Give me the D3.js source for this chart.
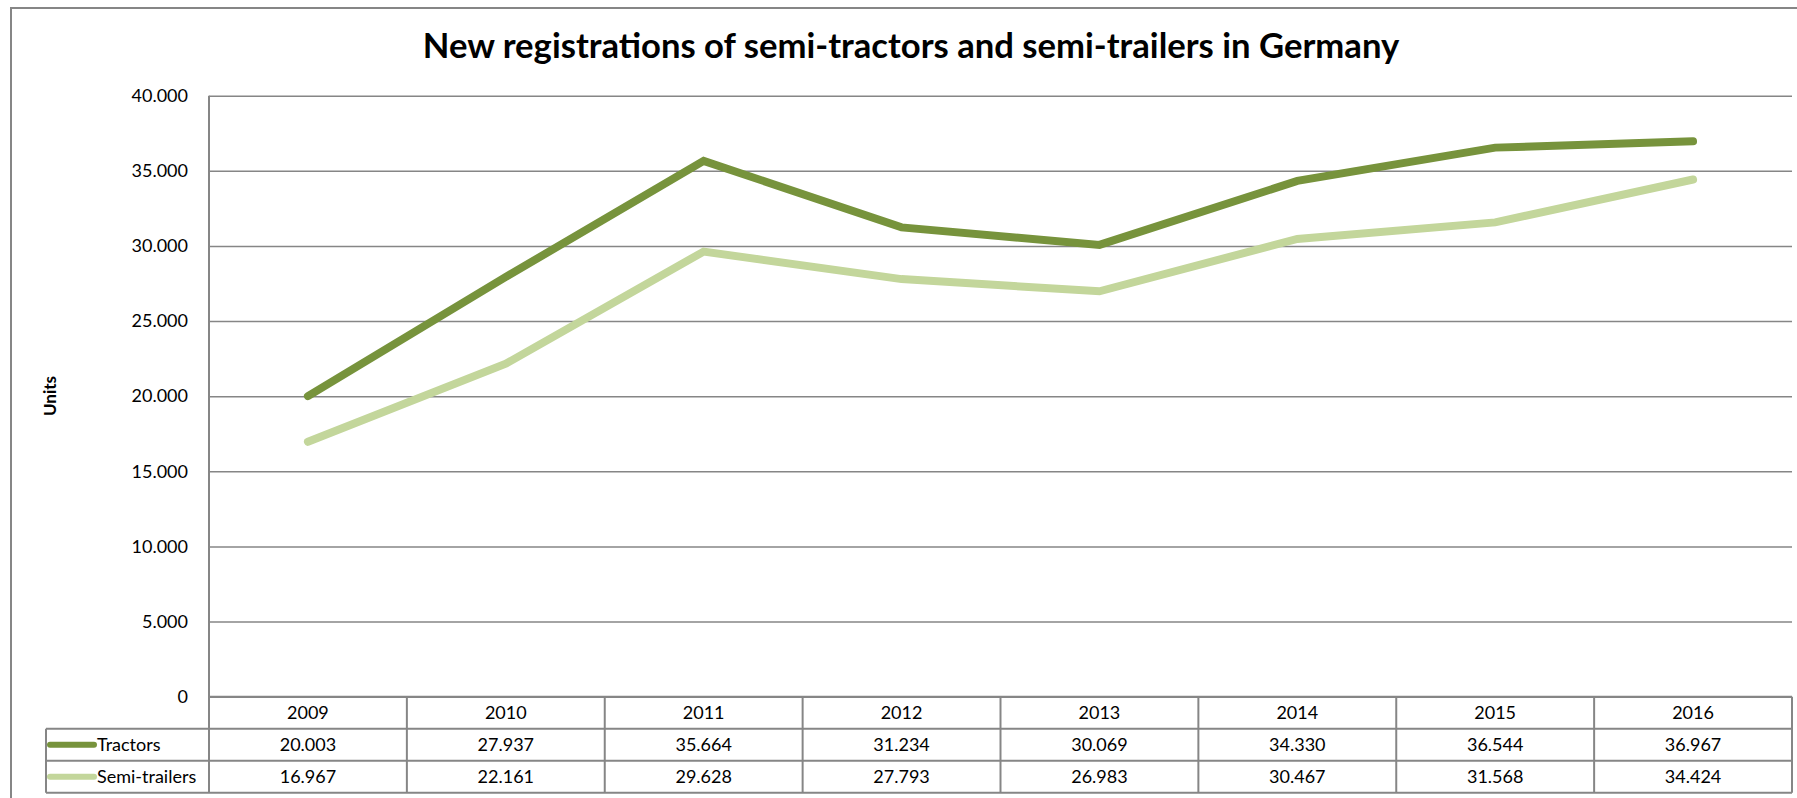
<!DOCTYPE html>
<html>
<head>
<meta charset="utf-8">
<script src="https://cdn.jsdelivr.net/npm/d3@7"></script>
<style>
  body { margin: 0; background: #fff; }
  svg { display: block; font-family: Lato, "Open Sans", sans-serif; }
</style>
</head>
<body>
<div id="chart"></div>
<script>
var years = ['2009', '2010', '2011', '2012', '2013', '2014', '2015', '2016'];
var tractors = [20003, 27937, 35664, 31234, 30069, 34330, 36544, 36967];
var semiTrailers = [16967, 22161, 29628, 27793, 26983, 30467, 31568, 34424];
var yTicks = [0, 5000, 10000, 15000, 20000, 25000, 30000, 35000, 40000];
var seriesNames = ['Tractors', 'Semi-trailers'];

var series = [
    { name: seriesNames[0], values: tractors, color: '#77933c' },
    { name: seriesNames[1], values: semiTrailers, color: '#c3d69b' }
];

var width = 1797, height = 798;
var plotLeft = 209, plotRight = 1792, plotTop = 95.7, plotBottom = 696.7;
var legendLeft = 46, rowH = 32;
var gridColor = '#868686';

// german style thousands separator
var fmt = d3.formatLocale({ decimal: ',', thousands: '.', grouping: [3], currency: ['', ''] }).format(',d');

var svg = d3.select('#chart').append('svg')
    .attr('width', width)
    .attr('height', height);

// outer chart border (right and bottom are cut off in the original)
svg.append('path')
    .attr('d', 'M11,' + (height + 2) + 'V8H' + (width + 2))
    .attr('fill', 'none')
    .attr('stroke', gridColor)
    .attr('stroke-width', 2);

var x = d3.scaleBand()
    .domain(years)
    .range([plotLeft, plotRight]);

var y = d3.scaleLinear()
    .domain([0, 40000])
    .range([plotBottom, plotTop]);

// title
var title = svg.append('text')
    .attr('x', 911)
    .attr('y', 58)
    .attr('text-anchor', 'middle')
    .attr('font-weight', 'bold')
    .attr('font-size', 32)
    .attr('fill', '#000')
    .text('New registrations of semi-tractors and semi-trailers in Germany');
var tw = title.node().getComputedTextLength();
title.attr('font-size', 32 * 977 / tw);

// gridlines + y labels
var yAxis = svg.append('g')
    .attr('transform', 'translate(' + plotLeft + ',0)')
    .call(d3.axisLeft(y).tickValues(yTicks).tickSize(-(plotRight - plotLeft)).tickPadding(21).tickFormat(fmt));
yAxis.select('.domain').remove();
yAxis.selectAll('.tick line')
    .attr('stroke', gridColor)
    .attr('stroke-width', 1.5);
yAxis.selectAll('.tick text')
    .attr('font-size', 18)
    .attr('font-family', 'Lato, sans-serif')
    .attr('fill', '#000');

svg.append('text')
    .attr('transform', 'translate(56,396) rotate(-90)')
    .attr('text-anchor', 'middle')
    .attr('font-weight', 'bold')
    .attr('font-size', 17)
    .text('Units');

// lines
var line = d3.line()
    .x(function(d, i) { return x(years[i]) + x.bandwidth() / 2; })
    .y(function(d) { return y(d); });

svg.append('g').selectAll('path')
    .data(series.slice().reverse())
    .enter().append('path')
    .attr('d', function(d) { return line(d.values); })
    .attr('fill', 'none')
    .attr('stroke', function(d) { return d.color; })
    .attr('stroke-width', 8)
    .attr('stroke-linecap', 'round')
    .attr('stroke-linejoin', 'miter');

// data table
var table = svg.append('g').attr('class', 'datatable');
var tTop = plotBottom;
var tBottom = tTop + rowH * 3;

// horizontal rules
[tTop + rowH, tTop + rowH * 2, tBottom].forEach(function(yy) {
    table.append('line')
        .attr('x1', legendLeft).attr('x2', plotRight)
        .attr('y1', yy).attr('y2', yy)
        .attr('stroke', gridColor).attr('stroke-width', 2);
});
table.append('line')
    .attr('x1', plotLeft).attr('x2', plotRight)
    .attr('y1', tTop).attr('y2', tTop)
    .attr('stroke', gridColor).attr('stroke-width', 2);

// vertical rules
var vx = years.map(function(d) { return x(d); }).concat([plotRight]);
vx.forEach(function(xx, i) {
    table.append('line')
        .attr('x1', xx).attr('x2', xx)
        .attr('y1', i === 0 ? plotTop : tTop).attr('y2', tBottom)
        .attr('stroke', gridColor).attr('stroke-width', 2);
});
table.append('line')
    .attr('x1', legendLeft).attr('x2', legendLeft)
    .attr('y1', tTop + rowH).attr('y2', tBottom)
    .attr('stroke', gridColor).attr('stroke-width', 2);

// year headers
table.selectAll('.year')
    .data(years)
    .enter().append('text')
    .attr('x', function(d) { return x(d) + x.bandwidth() / 2; })
    .attr('y', tTop + rowH / 2)
    .attr('dy', '0.35em')
    .attr('text-anchor', 'middle')
    .attr('font-size', 18)
    .text(function(d) { return d; });

// value rows
series.forEach(function(s, r) {
    var cy = tTop + rowH * (r + 1) + rowH / 2;
    table.append('line')
        .attr('x1', 50).attr('x2', 94)
        .attr('y1', cy).attr('y2', cy)
        .attr('stroke', s.color)
        .attr('stroke-width', 6)
        .attr('stroke-linecap', 'round');
    table.append('text')
        .attr('x', 97)
        .attr('y', cy)
        .attr('dy', '0.35em')
        .attr('font-size', 18)
        .text(s.name);
    table.selectAll('.v' + r)
        .data(s.values)
        .enter().append('text')
        .attr('x', function(d, i) { return x(years[i]) + x.bandwidth() / 2; })
        .attr('y', cy)
        .attr('dy', '0.35em')
        .attr('text-anchor', 'middle')
        .attr('font-size', 18)
        .text(function(d) { return fmt(d); });
});
</script>
</body>
</html>
